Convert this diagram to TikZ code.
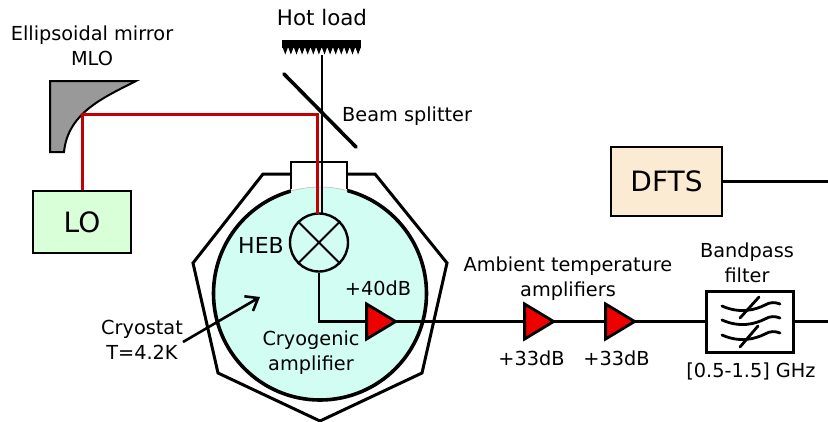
\documentclass[tikz,border=0pt]{standalone}
\usepackage{fontspec}
\setmainfont{DejaVu Sans}
\usetikzlibrary{shapes.geometric,arrows.meta}
\definecolor{cryo}{HTML}{D2FDF2}
\definecolor{lored}{HTML}{C40000}
\definecolor{logreen}{HTML}{D9FFD9}
\definecolor{dftsbg}{HTML}{FAEBD2}
\definecolor{ampred}{HTML}{EE0000}
\definecolor{mirrorgray}{HTML}{999999}
\tikzset{
  wire/.style={line width=2.9pt},
  beam/.style={line width=3pt,color=lored},
  lbl/.style={font=\fontsize{19.3}{24.8}\selectfont,align=center,inner sep=0pt},
  bigbox/.style={draw,line width=2.5pt,inner sep=0pt},
  ampl/.style={draw,fill=ampred,line width=2.8pt,isosceles triangle,isosceles triangle stretches,
    shape border rotate=0,minimum width=35pt,minimum height=29pt,inner sep=0pt},
  wave/.style={line width=2.8pt,line cap=round},
}
\begin{document}
\begin{tikzpicture}[x=1pt,y=-1pt]
\useasboundingbox (0,0) rectangle (828,421);
% outer shield
\draw[line width=3pt,line join=miter] (291,174) -- (263,174) -- (193,263) -- (218,373) -- (320,421) -- (422,373) -- (447,263) -- (375,174) -- (347,174);
% cold plate
\node[circle,draw,fill=cryo,line width=3.6pt,minimum size=213pt,inner sep=0pt] (cryostat) at (320,293.5) {};
% window
\begin{scope}
\clip (291,160) rectangle (347,205);
\fill[white] (291,160) rectangle (347,205);
\fill[cryo] (320,293.5) circle (106.5);
\draw[gray!60,line width=0.5pt] (320,293.5) circle (106.5);
\end{scope}
\draw[line width=2.4pt,line join=miter] (291,189) -- (291,162) -- (347,162) -- (347,189);
% mirror
\draw[fill=mirrorgray,line width=2pt,line join=miter] (50,81) -- (136,81) .. controls (105,97) and (68,112) .. (64,152) -- (50,152) -- cycle;
% hot load
\fill (282,40) rectangle (361,48);
\foreach \i in {0,...,13} {
  \fill ({282.5+\i*5.6},47) -- ({288.1+\i*5.6},47) -- ({285.3+\i*5.6},54.5) -- cycle;
}
\coordinate (loadend) at (322,55);
% boxes
\node[bigbox,fill=logreen,minimum width=98pt,minimum height=62pt,font=\fontsize{28}{30}\selectfont] (lo) at (82,222) {LO};
\node[bigbox,fill=dftsbg,minimum width=111pt,minimum height=69pt,font=\fontsize{28}{30}\selectfont] (dfts) at (666.5,181.5) {DFTS};
\node[bigbox,line width=3pt,fill=white,minimum width=87pt,minimum height=61pt] (filter) at (749.5,321.5) {};
% HEB
\node[circle,draw,fill=cryo,line width=2.4pt,minimum size=58pt,inner sep=0pt] (heb) at (319,242.5) {};
\draw[line width=2pt] (heb.north west) -- (heb.south east) (heb.north east) -- (heb.south west);
% beams
\coordinate (mirrorhit) at (82,114);
\coordinate (splithit) at (317,114);
\coordinate (hebred) at (317,213.5);
\draw[line width=2.6pt] (loadend) -- (322,214);
\draw[beam,line join=miter] (lo.north -| mirrorhit) -- (mirrorhit) -- (splithit) -- (hebred);
% splitter
\coordinate (bsa) at (284,74);
\coordinate (bsb) at (356,147);
\draw[line width=3.6pt,line cap=round] (bsa) -- (bsb);
% amplifiers
\node[ampl] (a1) at (376.5,321.5) {};
\node[ampl] (a2) at (534.5,321.5) {};
\node[ampl] (a3) at (615.5,321.5) {};
\coordinate (right1) at (828,181.5);
\coordinate (right2) at (828,321.5);
\draw[wire] (heb.south) |- (a1.lower side);
\draw[wire] ([xshift=-3pt]a1.apex) -- (a2.lower side);
\draw[wire] ([xshift=-3pt]a2.apex) -- (a3.lower side);
\draw[wire] ([xshift=-3pt]a3.apex) -- (filter.west);
\draw[wire] (filter.east) -- (right2);
\draw[wire] (dfts.east) -- (right1);
% filter glyph
\draw[wave] (722,306) .. controls (740,314) and (755,310) .. (765,305) .. controls (770,302) and (775,302) .. (780,304);
\draw[wave] (722,320) .. controls (740,328) and (755,324) .. (765,319) .. controls (770,316) and (775,316) .. (780,318);
\draw[wave] (722,335) .. controls (740,343) and (755,339) .. (765,334) .. controls (770,331) and (775,331) .. (780,333);
\draw[wave] (740,318) -- (759,297);
\draw[wave] (740,347) -- (758,326);
% labels
\node[lbl,font=\fontsize{21.4}{24}\selectfont] (t1) at (322,18) {Hot load};
\node[lbl] (t2) at (92,46) {Ellipsoidal mirror\\MLO};
\node[lbl,anchor=west] (t3) at (342,116) {Beam splitter};
\node[lbl,font=\fontsize{22}{24}\selectfont] (t4) at (261,245) {HEB};
\node[lbl] (t5) at (378,288) {+40dB};
\node[lbl] (t6) at (311,352.5) {Cryogenic\\amplifier};
\node[lbl] (t7) at (142,340) {Cryostat\\T=4.2K};
\node[lbl] (t8) at (568,279) {Ambient temperature\\amplifiers};
\node[lbl] (t9) at (531.5,358) {+33dB};
\node[lbl] (t10) at (616.5,358) {+33dB};
\node[lbl] (t11) at (747,262.5) {Bandpass\\filter};
\node[lbl] (t12) at (751,371) {[0.5-1.5] GHz};
% pointer
\coordinate (ptra) at (183,342);
\coordinate (ptrb) at (260,297);
\draw[line width=2.6pt,-{Straight Barb[length=11pt,width=17pt,line width=2.6pt]}] (ptra) -- (ptrb);
\end{tikzpicture}
\end{document}
